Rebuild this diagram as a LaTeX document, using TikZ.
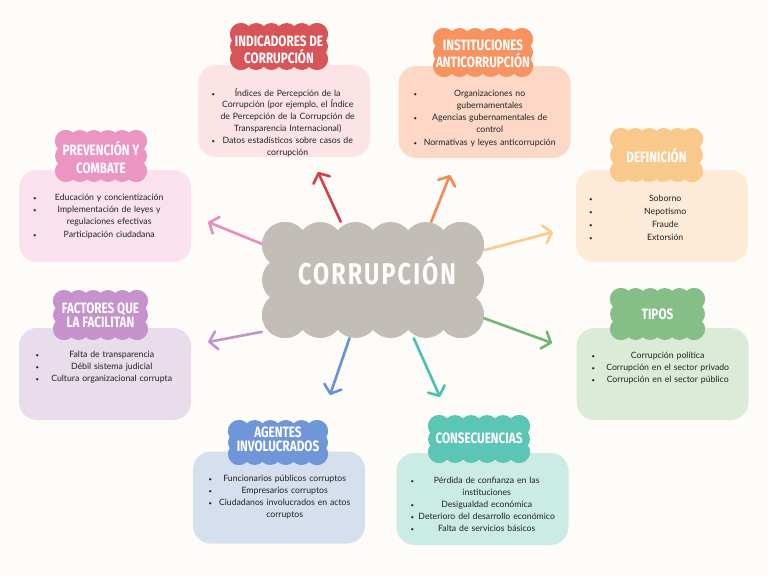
\documentclass[tikz,border=0pt]{standalone}
\usepackage{fontspec}
\setmainfont{Lato}
\newfontfamily\titlefont[FakeStretch=0.78]{Fira Sans}
\usetikzlibrary{arrows.meta}
\definecolor{fondo}{HTML}{FDFCF8}
\definecolor{tinta}{HTML}{222222}
\definecolor{grisN}{HTML}{C3BDB8}
\definecolor{rojoN}{HTML}{D75459}\definecolor{rojoF}{HTML}{CF4249}\definecolor{rojoC}{HTML}{FCE4E6}
\definecolor{naraN}{HTML}{F79261}\definecolor{naraF}{HTML}{F7884F}\definecolor{naraC}{HTML}{FDD8C6}
\definecolor{amarN}{HTML}{F9C98B}\definecolor{amarF}{HTML}{FBCB8A}\definecolor{amarC}{HTML}{FDEBD8}
\definecolor{verdN}{HTML}{85BE86}\definecolor{verdF}{HTML}{72B775}\definecolor{verdC}{HTML}{DCEAD8}
\definecolor{turqN}{HTML}{5BC6B6}\definecolor{turqF}{HTML}{4AC1B0}\definecolor{turqC}{HTML}{CBECE5}
\definecolor{azulN}{HTML}{6F96D8}\definecolor{azulF}{HTML}{6393DC}\definecolor{azulC}{HTML}{D5DFEE}
\definecolor{moraN}{HTML}{C592CB}\definecolor{moraF}{HTML}{C393CF}\definecolor{moraC}{HTML}{E9DCEB}
\definecolor{rosaN}{HTML}{EB95C2}\definecolor{rosaF}{HTML}{E98BBE}\definecolor{rosaC}{HTML}{F9E1EE}
\newcommand{\nube}[8]{%
	\fill[#8] (#1-#3/2+#7,#2-#4/2+#7) rectangle (#1+#3/2-#7,#2+#4/2-#7);
	\foreach \i in {0,...,#5} \fill[#8] ({#1-#3/2+#7+\i*(#3-2*#7)/#5},{#2-#4/2+#7}) circle (#7) ({#1-#3/2+#7+\i*(#3-2*#7)/#5},{#2+#4/2-#7}) circle (#7);
	\foreach \j in {0,...,#6} \fill[#8] ({#1-#3/2+#7},{#2-#4/2+#7+\j*(#4-2*#7)/#6}) circle (#7) ({#1+#3/2-#7},{#2-#4/2+#7+\j*(#4-2*#7)/#6}) circle (#7);
}
\newcommand{\li}[1]{\par\setlength{\lineskip}{0pt}\noindent\makebox[6pt][l]{\fontsize{6}{6}\selectfont\textbullet}\parbox[t]{140pt}{\centering\strut #1\strut}}

\begin{document}
\begin{tikzpicture}[x=1pt, y=-1pt, >={Straight Barb[round, length=7.5pt, width=18pt]}, flecha/.style={->, line width=2.6pt, line cap=round}, caja/.style={rounded corners=18pt, minimum width=172pt, minimum height=92pt, inner sep=0pt}, titulo/.style={text=white, align=center, inner sep=0pt, font=\titlefont\bfseries\fontsize{15}{17.5}\selectfont}, lista/.style={anchor=north west, text width=150pt, align=left, inner sep=0pt, text=tinta, font=\fontsize{8.7}{12}\selectfont}]
	\fill[fondo] (0,0) rectangle (768,576);
	\node[caja, fill=rojoC] (indCaja) at (284,111) {};
	\node[caja, fill=naraC] (insCaja) at (484.5,112) {};
	\node[caja, fill=rosaC] (preCaja) at (105,216) {};
	\node[caja, fill=amarC] (defCaja) at (662,216) {};
	\node[caja, fill=moraC] (facCaja) at (105,374) {};
	\node[caja, fill=verdC] (tipCaja) at (662.5,374) {};
	\node[caja, fill=azulC] (ageCaja) at (279,497.5) {};
	\node[caja, fill=turqC] (conCaja) at (482.5,499) {};
	\nube{279}{46.5}{98}{47}{5}{2}{11}{rojoN}
	\nube{483}{52.5}{100}{49}{5}{2}{11}{naraN}
	\nube{101}{156}{92}{52}{5}{2}{11}{rosaN}
	\nube{656.5}{155}{93}{54}{5}{2}{11}{amarN}
	\nube{100.5}{315}{95}{50}{5}{2}{11}{moraN}
	\nube{657.5}{314}{95}{52}{5}{2}{11}{verdN}
	\nube{278}{442.5}{100}{45}{5}{2}{11}{azulN}
	\nube{479}{439}{102}{48}{5}{2}{11}{turqN}
	\node[titulo] (indTit) at (279,50) {INDICADORES DE\\CORRUPCIÓN};
	\node[titulo] (insTit) at (483,54) {INSTITUCIONES\\ANTICORRUPCIÓN};
	\node[titulo] (preTit) at (101,157.5) {PREVENCIÓN Y\\COMBATE};
	\node[titulo] (defTit) at (656.5,155) {DEFINICIÓN};
	\node[titulo, font=\titlefont\bfseries\fontsize{15}{14}\selectfont] (facTit) at (100.5,315) {FACTORES QUE\\LA FACILITAN};
	\node[titulo] (tipTit) at (657.5,314) {TIPOS};
	\node[titulo, font=\titlefont\bfseries\fontsize{15}{13.5}\selectfont] (ageTit) at (278,439.5) {AGENTES\\INVOLUCRADOS};
	\node[titulo] (conTit) at (479,438) {CONSECUENCIAS};
	\node[lista, font=\fontsize{8.7}{11.6}\selectfont] (indTxt) at (211.5,84.5) {\li{Índices de Percepción de la\\Corrupción (por ejemplo, el Índice\\de Percepción de la Corrupción de\\Transparencia Internacional)}\li{Datos estadísticos sobre casos de\\corrupción}};
	\node[lista] (insTxt) at (413.5,84) {\li{Organizaciones no\\gubernamentales}\li{Agencias gubernamentales de\\control}\li{Normativas y leyes anticorrupción}};
	\node[lista] (preTxt) at (33,188) {\li{Educación y concientización}\li{Implementación de leyes y\\regulaciones efectivas}\li{Participación ciudadana}};
	\node[lista, font=\fontsize{8.7}{13.3}\selectfont] (defTxt) at (589,187.5) {\li{Soborno}\li{Nepotismo}\li{Fraude}\li{Extorsión}};
	\node[lista] (facTxt) at (35.5,345) {\li{Falta de transparencia}\li{Débil sistema judicial}\li{Cultura organizacional corrupta}};
	\node[lista] (tipTxt) at (591.5,346) {\li{Corrupción política}\li{Corrupción en el sector privado}\li{Corrupción en el sector público}};
	\node[lista, font=\fontsize{8.7}{11.7}\selectfont] (ageTxt) at (208.5,470) {\li{Funcionarios públicos corruptos}\li{Empresarios corruptos}\li{Ciudadanos involucrados en actos\\corruptos}};
	\node[lista] (conTxt) at (410.5,471) {\li{Pérdida de confianza en las\\instituciones}\li{Desigualdad económica}\li{Deterioro del desarrollo económico}\li{Falta de servicios básicos}};
	\nube{373}{280}{222}{116}{5}{2}{23}{grisN}
	\node[minimum width=222pt, minimum height=116pt, inner sep=0pt] (corrup) at (373,280) {};
	\node[text=white, inner sep=0pt, font=\titlefont\bfseries\fontsize{30}{30}\selectfont\addfontfeature{LetterSpace=7}] (corrupTxt) at (377,270) {CORRUPCIÓN};
	\coordinate (pRojo) at (318,172);
	\coordinate (pNara) at (450,175);
	\coordinate (pAmar) at (553,232);
	\coordinate (pVerd) at (552,343);
	\coordinate (pTurq) at (440,397);
	\coordinate (pAzul) at (330,395);
	\coordinate (pMora) at (208,342);
	\coordinate (pRosa) at (208,222);
	\draw[flecha, rojoF] (corrup.119) -- (pRojo);
	\draw[flecha, naraF] (corrup.45) -- (pNara);
	\draw[flecha, amarF] (corrup.15) -- (pAmar);
	\draw[flecha, verdF] (corrup.341) -- (pVerd);
	\draw[flecha, turqF] (corrup.305) -- (pTurq);
	\draw[flecha, azulF] (corrup.248) -- (pAzul);
	\draw[flecha, moraF] (corrup.205) -- (pMora);
	\draw[flecha, rosaF] (corrup.162) -- (pRosa);
\end{tikzpicture}
\end{document}
